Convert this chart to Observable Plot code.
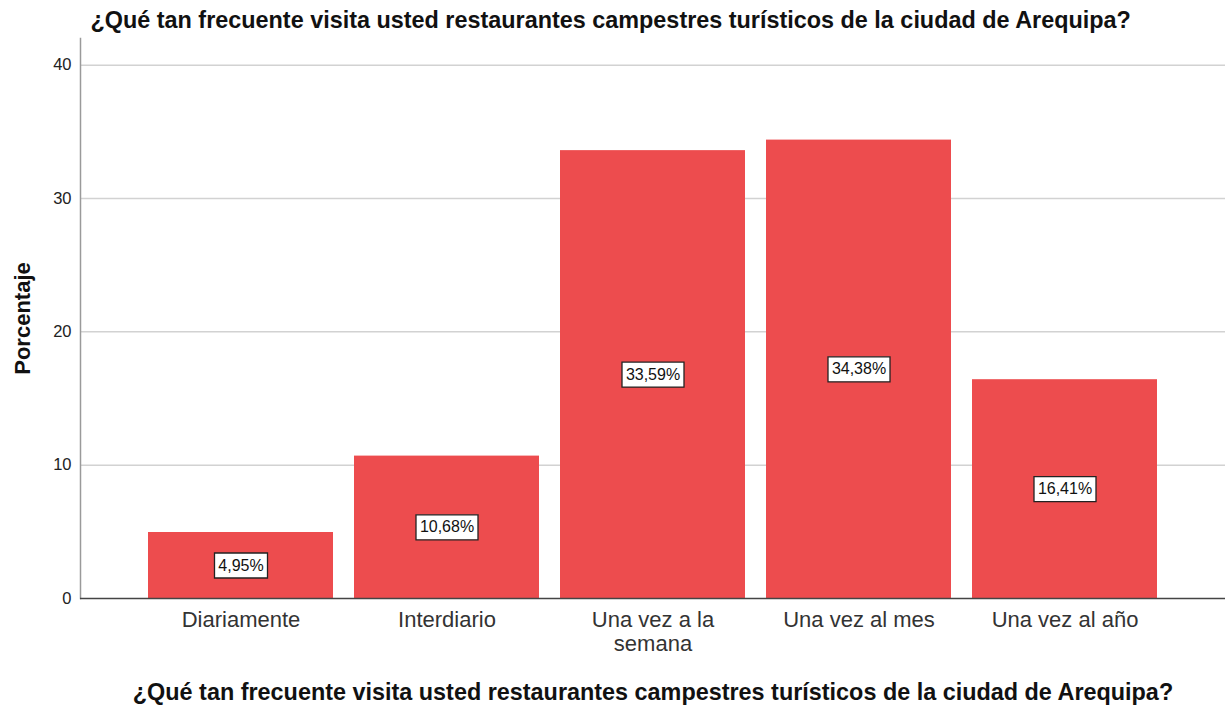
<!DOCTYPE html>
<html>
<head>
<meta charset="utf-8">
<script src="https://cdn.jsdelivr.net/npm/d3@7"></script>
<script src="https://cdn.jsdelivr.net/npm/@observablehq/plot@0.6"></script>
<style>
  html, body { margin: 0; padding: 0; background: #fff; }
  #chart { width: 1227px; height: 706px; }
</style>
</head>
<body>
<div id="chart"></div>
<script>
const categories = ["Diariamente", "Interdiario", "Una vez a la semana", "Una vez al mes", "Una vez al año"];
const percentages = [4.95, 10.68, 33.59, 34.38, 16.41];
const valueLabels = ["4,95%", "10,68%", "33,59%", "34,38%", "16,41%"];
const tickLabels = ["Diariamente", "Interdiario", "Una vez a la\nsemana", "Una vez al mes", "Una vez al año"];
const yTicks = [0, 10, 20, 30, 40];
const gridValues = [10, 20, 30, 40];
const titleText = "¿Qué tan frecuente visita usted restaurantes campestres turísticos de la ciudad de Arequipa?";
const yLabel = "Porcentaje";

const FONT = "'Liberation Sans', Arial, Helvetica, sans-serif";
const data = categories.map((c, i) => ({cat: c, value: percentages[i], label: valueLabels[i]}));

// measure label widths for the white boxes
const cv = document.createElement("canvas").getContext("2d");
cv.font = "16px 'Liberation Sans', Arial, sans-serif";
function boxSymbol(text) {
  const w = Math.round(cv.measureText(text).width) + 8;
  const h = 25;
  return { draw(context) { context.rect(-w / 2, -h / 2, w, h); } };
}

const labelMarks = data.map(d =>
  Plot.dot([d], {x: "cat", y: v => v.value / 2, symbol: boxSymbol(d.label), fill: "white", stroke: "#222", strokeWidth: 1.3})
);

const chart = Plot.plot({
  width: 1227,
  height: 706,
  marginTop: 38,
  marginBottom: 108,
  marginLeft: 80,
  marginRight: 2,
  style: {fontFamily: FONT, background: "white", color: "#222"},
  x: {domain: categories, paddingInner: 0.104, paddingOuter: 0.325, label: null},
  y: {domain: [0, 42], label: null},
  marks: [
    Plot.ruleY(gridValues, {stroke: "#d2d2d2", strokeWidth: 1.5}),
    Plot.barY(data, {x: "cat", y: "value", fill: "#ED4C4E"}),
    Plot.frame({anchor: "left", stroke: "#9a9a9a", strokeWidth: 1.5}),
    Plot.ruleY([0], {stroke: "#444", strokeWidth: 1.3}),
    Plot.axisY({ticks: yTicks, tickSize: 0, tickPadding: 9, fontSize: 16.5, label: null, fill: "#222"}),
    Plot.axisX({tickSize: 0, tickPadding: 11, fontSize: 22, lineHeight: 1.1, label: null, fill: "#333",
      tickFormat: d => tickLabels[categories.indexOf(d)]}),
    ...labelMarks,
    Plot.text(data, {x: "cat", y: d => d.value / 2, text: "label", fontSize: 16, fill: "#111"}),
    Plot.text([titleText], {frameAnchor: "top-left", textAnchor: "start", dx: 10, dy: -18, lineAnchor: "middle",
      fontSize: 23.4, fontWeight: "bold", fill: "#111"}),
    Plot.text([titleText], {frameAnchor: "bottom", textAnchor: "middle", dy: 94, lineAnchor: "middle",
      fontSize: 23.4, fontWeight: "bold", fill: "#111"}),
    Plot.text([yLabel], {frameAnchor: "left", textAnchor: "middle", dx: -58, rotate: -90, lineAnchor: "middle",
      fontSize: 22, fontWeight: "bold", fill: "#111"})
  ]
});
document.getElementById("chart").appendChild(chart);
</script>
</body>
</html>
